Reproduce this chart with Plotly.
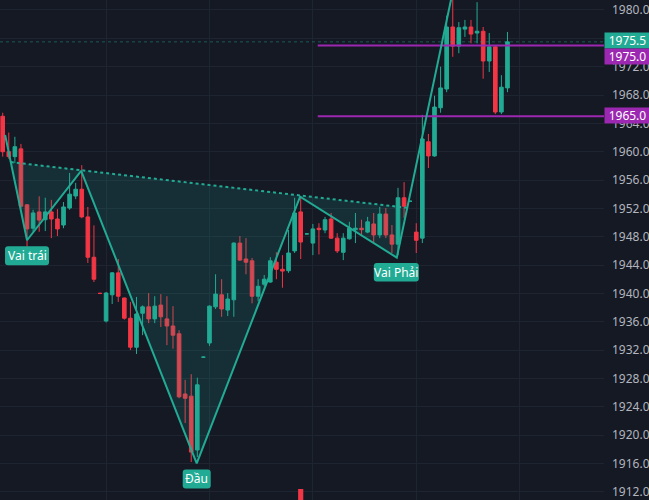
import plotly.graph_objects as go

# ---------------- data ----------------
idx = list(range(84))
opens = [1965.0, 1960.0, 1959.3, 1960.4, 1952.5, 1949.2, 1951.5, 1950.4, 1951.5, 1950.5,
         1949.65, 1952.05, 1953.75, 1954.7, 1950.8, 1945.1, 1940.0, 1936.1, 1939.8, 1942.9,
         1939.35, 1936.5, 1932.4, 1937.2, 1938.1, 1936.4, 1938.35, 1936.4, 1935.4, 1934.3,
         1925.8, 1925.5, 1917.9, 1931.0, 1933.0, 1938.1, 1939.8, 1937.65, 1939.1, 1947.1,
         1944.85, 1944.6, 1939.6, 1941.3, 1941.6, 1944.4, 1943.4, 1943.2, 1946.0, 1951.5,
         1948.4, 1947.1, 1949.2, 1948.95, 1950.5, 1947.8, 1945.8, 1947.7, 1949.0, 1949.2,
         1948.65, 1949.8, 1948.25, 1951.2, 1948.25, 1946.95, 1953.5, 1953.0, 1948.65, 1947.8,
         1961.4, 1959.4, 1966.2, 1968.85, 1977.6, 1974.9, 1977.3, 1977.6, 1976.75, 1977.0,
         1972.8, 1974.8, 1965.6, 1969.0]
highs = [1965.5, 1962.7, 1962.1, 1961.1, 1952.6, 1951.8, 1953.7, 1953.5, 1953.2, 1951.9,
         1952.9, 1957.0, 1955.6, 1958.1, 1952.2, 1949.6, 1940.1, 1940.2, 1943.0, 1944.85,
         1939.4, 1938.8, 1939.5, 1938.3, 1940.05, 1939.6, 1939.9, 1939.6, 1938.2, 1934.8,
         1927.8, 1928.6, 1928.1, 1931.1, 1938.3, 1942.7, 1942.0, 1940.05, 1947.2, 1948.1,
         1947.8, 1945.0, 1942.0, 1942.6, 1945.1, 1945.8, 1945.4, 1948.95, 1953.5, 1953.75,
         1948.5, 1949.8, 1949.9, 1950.8, 1951.35, 1948.5, 1948.5, 1950.1, 1951.35, 1950.4,
         1950.8, 1951.35, 1952.2, 1952.05, 1949.65, 1954.9, 1955.7, 1953.1, 1949.9, 1965.2,
         1962.5, 1967.9, 1972.0, 1979.2, 1982.0, 1978.3, 1978.6, 1978.6, 1981.1, 1977.6,
         1976.75, 1974.9, 1970.8, 1976.9]
lows = [1959.3, 1959.0, 1958.4, 1952.0, 1946.6, 1948.7, 1948.7, 1948.8, 1947.8, 1948.1,
        1949.2, 1951.8, 1953.3, 1950.6, 1944.3, 1941.6, 1939.9, 1935.9, 1938.5, 1938.8,
        1936.3, 1932.0, 1931.45, 1934.1, 1935.8, 1935.8, 1935.25, 1932.7, 1932.2, 1925.2,
        1921.7, 1916.2, 1916.9, 1930.9, 1932.6, 1937.8, 1936.7, 1936.8, 1936.7, 1944.6,
        1942.7, 1938.6, 1938.9, 1941.0, 1941.5, 1942.0, 1940.8, 1942.9, 1945.7, 1944.85,
        1948.3, 1945.4, 1945.5, 1948.5, 1947.7, 1945.7, 1944.7, 1947.6, 1947.1, 1948.25,
        1948.5, 1947.1, 1947.8, 1947.8, 1945.7, 1945.4, 1950.65, 1952.9, 1945.7, 1947.1,
        1957.7, 1959.3, 1965.5, 1968.4, 1973.4, 1973.9, 1976.2, 1975.3, 1975.3, 1970.3,
        1971.25, 1965.3, 1965.3, 1968.4]
closes = [1960.0, 1959.3, 1960.7, 1952.3, 1949.1, 1951.35, 1950.35, 1951.5, 1950.5, 1949.1,
          1952.2, 1954.0, 1954.7, 1950.8, 1945.1, 1942.0, 1940.0, 1940.05, 1942.9, 1939.6,
          1936.5, 1932.4, 1937.1, 1938.1, 1936.4, 1938.2, 1936.7, 1935.4, 1934.1, 1925.4,
          1925.2, 1917.6, 1927.1, 1931.0, 1938.2, 1939.9, 1937.8, 1939.2, 1947.1, 1944.7,
          1944.4, 1939.6, 1941.0, 1942.0, 1944.6, 1943.4, 1943.15, 1945.7, 1951.35, 1947.25,
          1948.4, 1949.1, 1949.0, 1950.4, 1947.8, 1946.0, 1947.8, 1949.2, 1949.2, 1949.0,
          1950.1, 1948.25, 1951.2, 1948.25, 1946.95, 1953.5, 1952.3, 1953.0, 1947.5, 1961.8,
          1959.4, 1966.3, 1969.0, 1977.6, 1974.9, 1977.5, 1977.6, 1976.6, 1977.0, 1972.8,
          1974.8, 1965.6, 1969.1, 1975.5]

# head & shoulders pattern pivots (bar index, price)
pattern_x = [0.4, 4.0, 12.9, 31.9, 48.9, 64.8, 75.0]
pattern_y = [1962.35, 1947.5, 1957.3, 1916.0, 1953.65, 1945.05, 1986.7]
neck_x = [1.33, 66.52]
neck_y = [1958.53, 1952.08]
fill_x = [1.33, 4.0, 12.9, 31.9, 48.9, 64.8, 66.52, 1.33]
fill_y = [1958.53, 1947.5, 1957.3, 1916.0, 1953.65, 1945.05, 1952.08, 1958.53]
pattern_labels = ["Vai trái", "Đầu", "Vai Phải"]
pattern_label_x = [4.0, 31.9, 64.8]
pattern_label_y = [1947.5, 1916.0, 1945.05]

levels = [1975.0, 1965.0]
level_start = 51.8
last_price = 1975.5

vol_x = [49]
vol_y = [2.2]

ytick_vals = list(range(1912, 1981, 4))

# ---------------- style ----------------
BG = "#151924"
GRID = "#1f2431"
UP = "#22ab94"
DOWN = "#f23645"
TEAL = "#22ab94"
PURPLE = "#9c27b0"
FONT = "Noto Sans"
XR = [-0.444, 98.87]
YR = [1910.84, 1981.41]

fig = go.Figure()

fig.add_trace(go.Scatter(x=fill_x, y=fill_y, fill="toself", mode="lines",
                         line=dict(width=0), fillcolor="rgba(34,171,148,0.16)",
                         hoverinfo="skip", showlegend=False))

fig.add_trace(go.Bar(x=vol_x, y=vol_y, yaxis="y2", marker=dict(color=DOWN, line=dict(width=0)),
                     width=0.85, hoverinfo="skip", showlegend=False))

fig.add_trace(go.Candlestick(
    x=idx, open=opens, high=highs, low=lows, close=closes,
    increasing=dict(line=dict(color=UP, width=1), fillcolor=UP),
    decreasing=dict(line=dict(color=DOWN, width=1), fillcolor=DOWN),
    whiskerwidth=0, hoverinfo="skip", showlegend=False))

# current price dotted line
fig.add_trace(go.Scatter(x=XR, y=[last_price, last_price], mode="lines",
                         line=dict(color="rgba(34,171,148,0.45)", width=1, dash="dot"),
                         hoverinfo="skip", showlegend=False))

for lv in levels:
    fig.add_trace(go.Scatter(x=[level_start, XR[1]], y=[lv, lv], mode="lines",
                             line=dict(color=PURPLE, width=2),
                             hoverinfo="skip", showlegend=False))

fig.add_trace(go.Scatter(x=neck_x, y=neck_y, mode="lines",
                         line=dict(color=TEAL, width=2, dash="dot"),
                         hoverinfo="skip", showlegend=False))
fig.add_trace(go.Scatter(x=pattern_x, y=pattern_y, mode="lines",
                         line=dict(color=TEAL, width=2),
                         hoverinfo="skip", showlegend=False))


def rrect(l, r, b, t, rad=3):
    return (f"M{l+rad},{b} L{r-rad},{b} Q{r},{b} {r},{b+rad} L{r},{t-rad} Q{r},{t} {r-rad},{t} "
            f"L{l+rad},{t} Q{l},{t} {l},{t-rad} L{l},{b+rad} Q{l},{b} {l+rad},{b} Z")


label_boxes = [(-22, 22, -25, -6), (-14, 14, -25, -6), (-23, 22, -24, -5.5)]
shapes = []
annotations = []
for txt, lx, ly, (l, r, b, t) in zip(pattern_labels, pattern_label_x, pattern_label_y, label_boxes):
    shapes.append(dict(type="path", xref="x", yref="y", xsizemode="pixel", ysizemode="pixel",
                       xanchor=lx, yanchor=ly, path=rrect(l, r, b, t),
                       fillcolor=TEAL, line=dict(width=0), layer="above"))
    annotations.append(dict(x=lx, y=ly, xref="x", yref="y", text=txt, showarrow=False,
                            xshift=(l + r) / 2, yshift=(b + t) / 2, xanchor="center", yanchor="middle",
                            font=dict(family=FONT, size=12, color="#ffffff")))

# price axis labels
price_tags = [(last_price, TEAL, 1), (levels[0], PURPLE, -11), (levels[1], PURPLE, 1)]
for val, col, ys in price_tags:
    annotations.append(dict(x=1, y=val, xref="paper", yref="y", text=f"{val:.1f}",
                            showarrow=False, xanchor="left", yanchor="middle", yshift=ys,
                            bgcolor=col, width=43, height=13, borderpad=1, align="center",
                            font=dict(family=FONT, size=12, color="#ffffff")))

fig.update_layout(
    width=649, height=500,
    margin=dict(l=0, r=45, t=0, b=0, autoexpand=False),
    paper_bgcolor=BG, plot_bgcolor=BG,
    showlegend=False,
    boxgap=0.15,
    shapes=shapes, annotations=annotations,
    xaxis=dict(range=XR, showticklabels=False, rangeslider=dict(visible=False),
               tickvals=[17, 34, 51, 68, 85], showgrid=True, gridcolor=GRID, gridwidth=1,
               zeroline=False, showline=False, ticks=""),
    yaxis=dict(range=YR, side="right", tickvals=ytick_vals,
               ticktext=[f"{v:.1f}" for v in ytick_vals],
               showgrid=True, gridcolor=GRID, gridwidth=1, zeroline=False, showline=False,
               ticks="", ticklabelstandoff=7,
               tickfont=dict(family=FONT, size=12, color="#b2b5be")),
    yaxis2=dict(range=[0, 100], overlaying="y", visible=False),
)

fig.write_html("out.html", config={"displayModeBar": False, "staticPlot": True},
               post_script="document.body.style.margin='0';document.body.style.background='#151924';")
